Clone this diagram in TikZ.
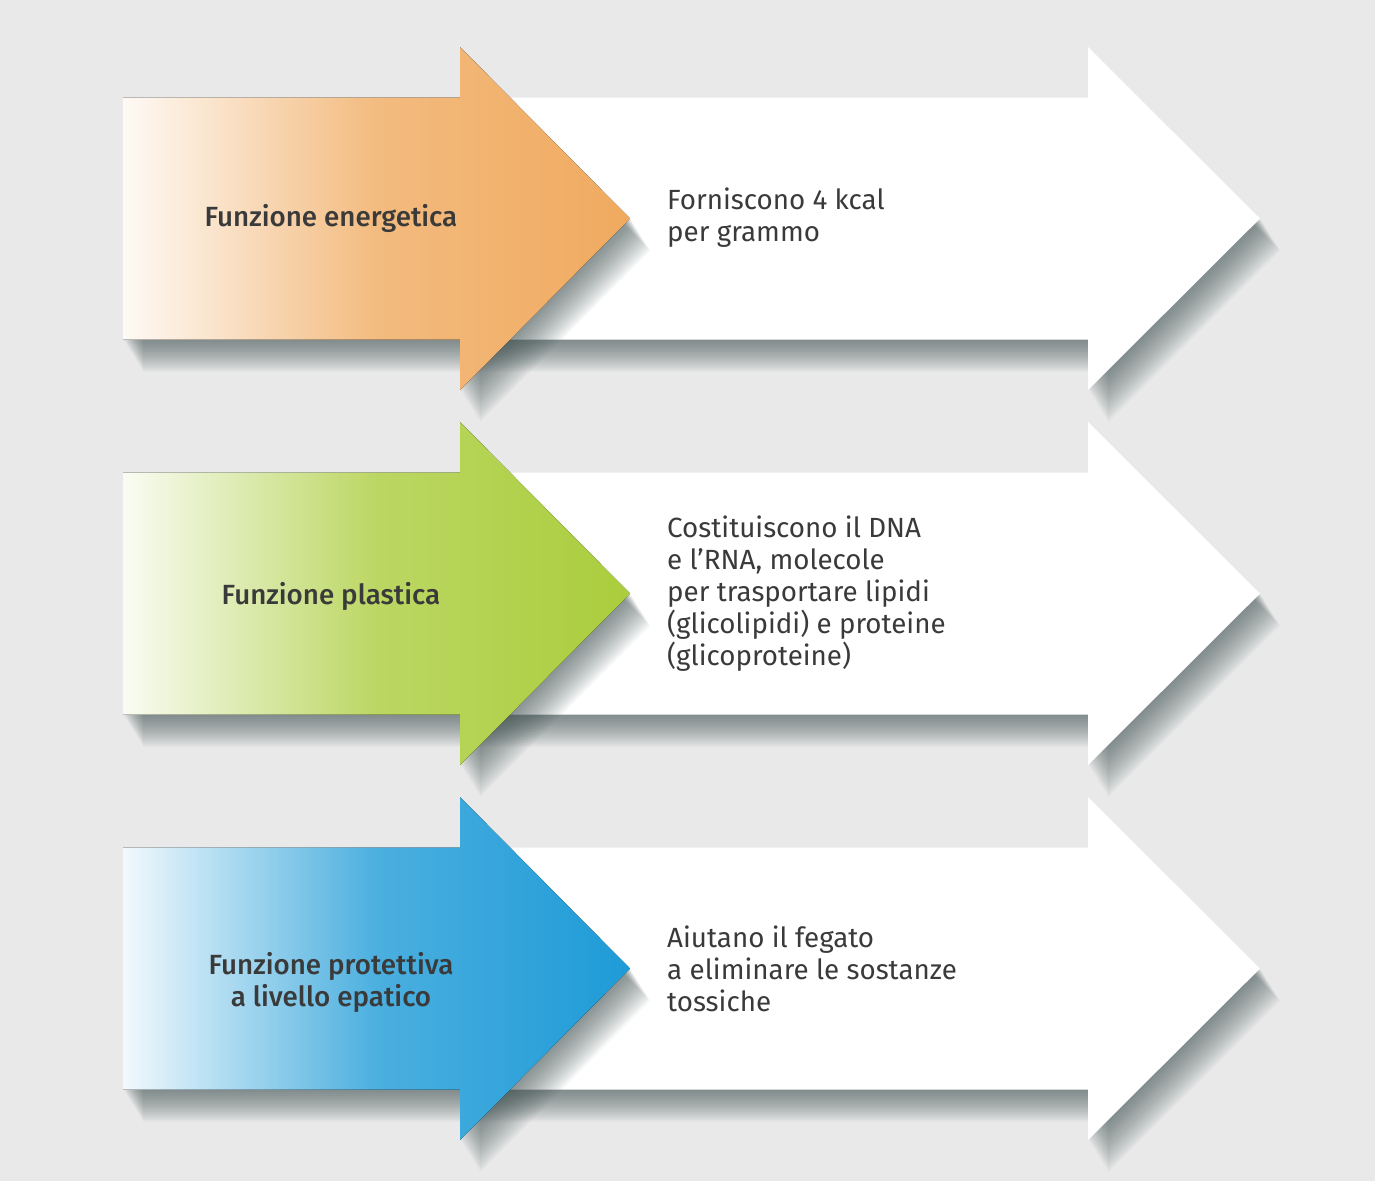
\documentclass[tikz,border=0pt]{standalone}
\usepackage{fontspec}
\setmainfont{Fira Sans}
\newfontfamily\labelfont{Fira Sans Medium}
\definecolor{pagegray}{HTML}{E9E9E9}
\definecolor{energia}{HTML}{F0AA5F}
\definecolor{plastica}{HTML}{AACD3C}
\definecolor{protezione}{HTML}{1E9BD7}
\definecolor{inkgray}{HTML}{3A3A3A}
\definecolor{shadowslate}{HTML}{3E5050}
\tikzset{
  whiteshape/.style={insert path={(460,-121) -- (1088,-121) -- (1088,-171.5) -- (1260,0)
      -- (1088,171.5) -- (1088,121) -- (460,121) -- cycle}},
  colorshape/.style={insert path={(123,-121) -- (460,-121) -- (460,-171.5) -- (630,0)
      -- (460,171.5) -- (460,121) -- (123,121) -- cycle}},
}
% one row: white arrow, coloured arrow, both with a soft shadow
\newcommand{\funcrow}[2]{%
  \begin{scope}[shift={(0,#1)}]
    \foreach \k in {1,...,16}
      \fill[shadowslate, opacity=0.05, shift={(1.25*\k,2*\k)}, whiteshape];
    \fill[white, whiteshape];
    \foreach \k in {1,...,16}
      \fill[shadowslate, opacity=0.05, shift={(1.25*\k,2*\k)}, colorshape];
    \fill[left color=#2!6!white, right color=#2, middle color=#2!80, colorshape];
  \end{scope}}
\begin{document}
\begin{tikzpicture}
    [x=0.02cm, y=-0.02cm,
    funclabel/.style={text=inkgray, font=\fontsize{15.8}{18.2}\selectfont\labelfont, align=center},
    funcdesc/.style={text=inkgray, font=\fontsize{15.8}{18.2}\selectfont, align=left, anchor=west},
    ]
    % page
    \fill[pagegray] (0,0) rectangle (1375,1181);
    % arrows
    \funcrow{218.5}{energia}
    \funcrow{593.5}{plastica}
    \funcrow{968.5}{protezione}
    % texts
    \node[funclabel] (energetica) at (331,218) {Funzione energetica};
    \node[funclabel] (plastica) at (331,596) {Funzione plastica};
    \node[funclabel] (protettiva) at (331,982) {Funzione protettiva\\a livello epatico};
    \node[funcdesc] (kcal) at (661,218) {Forniscono 4 kcal\\per grammo};
    \node[funcdesc] (dna) at (661,594) {Costituiscono il DNA\\e l'RNA, molecole\\per trasportare lipidi\\(glicolipidi) e proteine\\(glicoproteine)};
    \node[funcdesc] (fegato) at (661,969) {Aiutano il fegato\\a eliminare le sostanze\\tossiche};
\end{tikzpicture}
\end{document}
